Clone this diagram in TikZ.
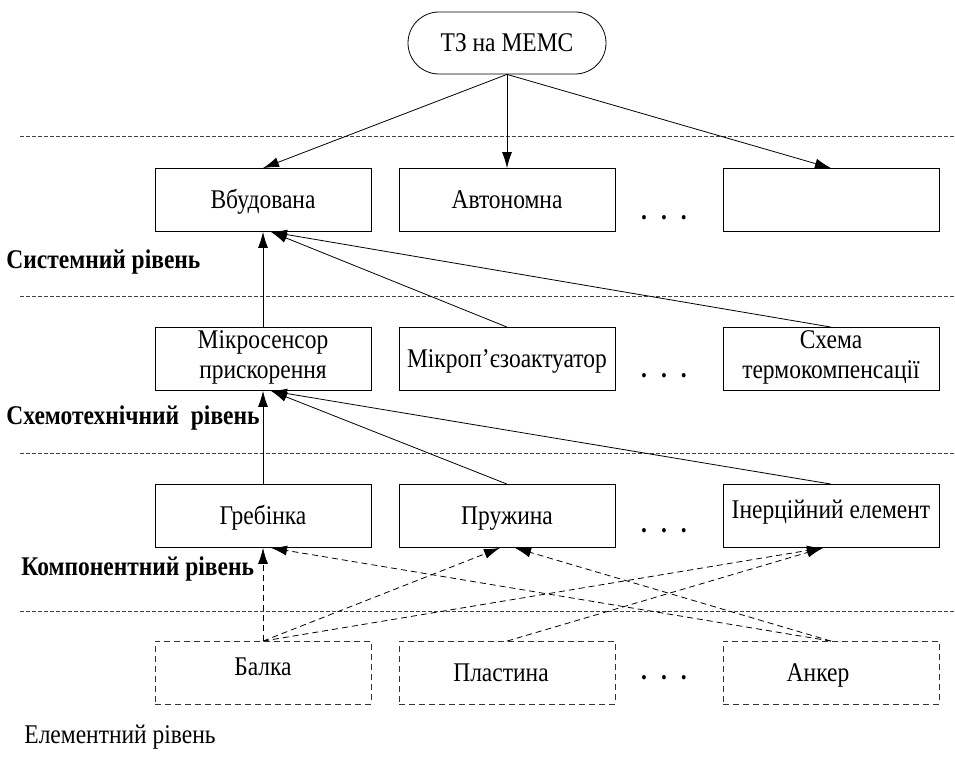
\documentclass[tikz,border=0pt]{standalone}
\usepackage{fontspec}
\setmainfont[FakeStretch=0.87]{Liberation Serif}
\usetikzlibrary{arrows.meta,shapes.misc}
\tikzset{>={Latex[length=8pt,width=5pt]}}
\tikzset{
  frame/.style={draw, minimum width=108pt, minimum height=31.5pt, align=center, inner sep=0.5pt},
  box/.style={frame, text height=11pt, text depth=2pt},
  tallbox/.style={frame, execute at begin node=\strut, execute at end node={\rule[-2pt]{0pt}{1pt}}},
  elbox/.style={box, draw=black!80, densely dashed},
  topbox/.style={draw, rounded rectangle, minimum width=108pt, minimum height=31pt,
    text height=11pt, text depth=2pt},
  levelname/.style={anchor=west, inner sep=0pt, font=\bfseries},
  divider/.style={draw=black!75, dash pattern=on 2pt off 1pt},
  dots/.style={anchor=base, font=\bfseries}
}

\begin{document}
\fontsize{13.5pt}{15pt}\selectfont
\begin{tikzpicture}[x=0.5pt,y=-0.5pt]
\useasboundingbox (0,0) rectangle (955,764);
\draw[divider] (20,136) -- (955,136);
\draw[divider] (20,296) -- (955,296);
\draw[divider] (20,453) -- (955,453);
\draw[divider] (20,611) -- (955,611);

\node[topbox] (tz) at (507,43) {ТЗ на МЕМС};

\node[box] (vbud) at (263,200) {Вбудована};
\node[box] (avt) at (507,200) {Автономна};
\node[dots] (d1) at (664,220) {.\hspace{7pt}.\hspace{7pt}.};
\node[box] (emp) at (831,200) {};

\node[tallbox] (mks) at (263,359) {Мікросенсор\\прискорення};
\node[box] (mpa) at (507,359) {Мікроп’єзоактуатор};
\node[dots] (d2) at (664,378) {.\hspace{7pt}.\hspace{7pt}.};
\node[tallbox] (sht) at (831,359) {Схема\\термокомпенсації};

\node[box] (greb) at (263,516) {Гребінка};
\node[box] (pruzh) at (507,516) {Пружина};
\node[dots] (d3) at (664,533) {.\hspace{7pt}.\hspace{7pt}.};
\node[box] (iner) at (831,516) {\raisebox{3pt}{Інерційний елемент}};

\node[elbox] (balka) at (263,673) {\raisebox{3pt}{Балка}};
\node[elbox] (plast) at (507,673) {\hspace*{-6pt}Пластина};
\node[dots] (d4) at (664,680) {.\hspace{7pt}.\hspace{7pt}.};
\node[elbox] (anker) at (831,673) {\hspace*{-13pt}Анкер};

\node[levelname] (sys) at (6,262) {Системний рівень};
\node[levelname] (sch) at (6,418) {Схемотехнічний~ рівень};
\node[levelname] (komp) at (21,569) {Компонентний рівень};
\node[anchor=west, inner sep=0pt] (elem) at (24,737) {Елементний рівень};

\path[->]
  (tz.south) edge (vbud.north)
             edge (avt.north)
             edge (emp.north)
  (mks.north) edge (vbud.south)
  (mpa.north) edge ([xshift=4pt]vbud.south)
  (sht.north) edge ([xshift=4pt]vbud.south)
  (greb.north) edge (mks.south)
  (pruzh.north) edge ([xshift=4pt]mks.south)
  (iner.north) edge ([xshift=4pt]mks.south);
\path[->, densely dashed]
  (balka.north) edge (greb.south)
                edge ([xshift=-3.5pt]pruzh.south)
                edge ([xshift=-4pt]iner.south)
  (plast.north) edge ([xshift=-4pt]iner.south)
  (anker.north) edge ([xshift=4pt]greb.south)
                edge ([xshift=4pt]pruzh.south);
\end{tikzpicture}
\end{document}
